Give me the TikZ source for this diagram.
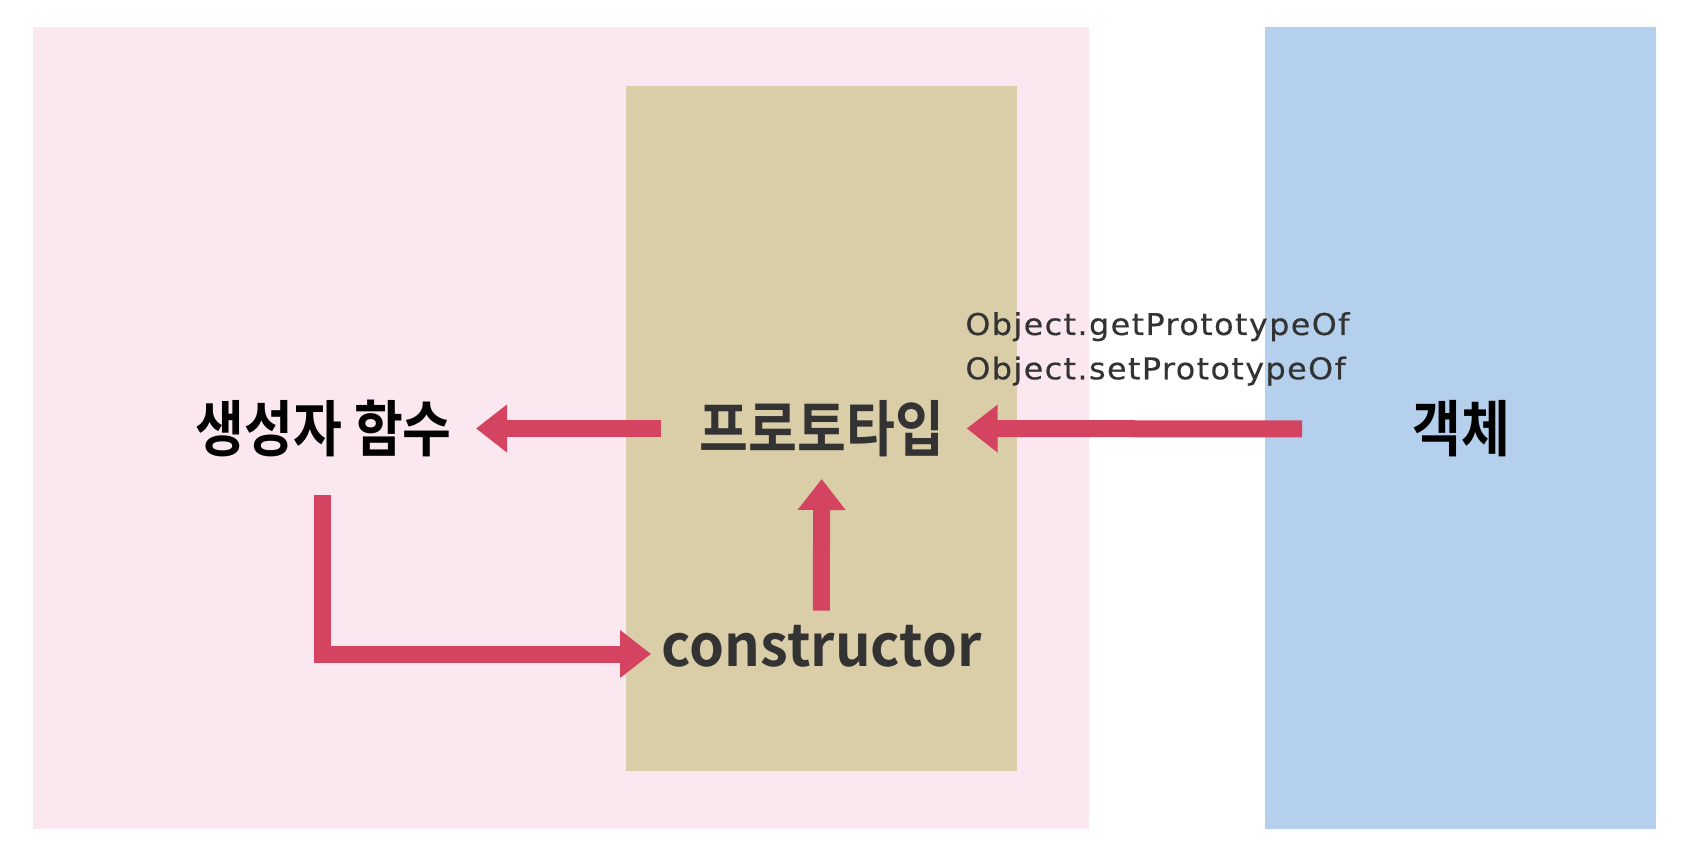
\documentclass[tikz,border=0pt]{standalone}
\usepackage{fontspec}
\setmainfont{Noto Sans CJK KR}
\newfontfamily\krb{Noto Sans CJK KR Bold}[FakeStretch=0.87]
\newfontfamily\latb{Noto Sans CJK KR Bold}[FakeStretch=0.965]
\newfontfamily\latr{DejaVu Sans}[FakeStretch=1.06,LetterSpace=4.75,FakeBold=0.4]
\usetikzlibrary{arrows.meta}
\definecolor{pinkbg}{RGB}{251,231,240}
\definecolor{tanbg}{RGB}{217,206,168}
\definecolor{bluebg}{RGB}{181,208,236}
\definecolor{arrred}{RGB}{212,67,95}
\definecolor{darktext}{RGB}{51,51,51}
\tikzset{
  krlabel/.style={inner sep=0pt, font=\krb\fontsize{30.5pt}{33pt}\selectfont},
  ctorlabel/.style={inner sep=0pt, text=darktext, font=\latb\fontsize{29pt}{33pt}\selectfont},
  apilabel/.style={inner sep=0pt, anchor=base west, text=darktext, font=\latr\fontsize{15pt}{18pt}\selectfont},
  arr/.style={draw=arrred, line width=8.5pt, -{Triangle[width=23pt,length=15.5pt]}}
}
\begin{document}
\begin{tikzpicture}[x=0.5pt,y=-0.5pt]
\useasboundingbox (0,0) rectangle (1694,866);
\fill[white] (0,0) rectangle (1694,866);
% panels
\fill[pinkbg] (33,27) rectangle (1089,829);
\fill[tanbg] (626,86) rectangle (1017,771);
\fill[bluebg] (1265,27) rectangle (1656,829);
% labels
\node[krlabel, text=black] (fn) at (323.6,428.5) {생성자 함수};
\node[krlabel, text=darktext] (proto) at (822,428.5) {프로토타입};
\node[krlabel, text=black] (obj) at (1461,429) {객체};
\node[ctorlabel, anchor=base] (ctor) at (821.7,666) {constructor};
\node[apilabel] (getp) at (965,335) {Object.getPrototypeOf};
\node[apilabel] (setp) at (965,379.3) {Object.setPrototypeOf};
% connectors
\draw[arr] ([xshift=-80.5pt]proto.center) -- ([xshift=76.2pt]fn.center);
\draw[arr] ([xshift=-79.5pt]obj.center) -- ([xshift=72.35pt]proto.center);
\draw[arr] ([xshift=-0.2pt,yshift=27.65pt]ctor.base) -- ([yshift=-25.25pt]ctor.base |- proto.center);
\draw[arr] ([xshift=-0.6pt,yshift=-33.25pt]fn.center) |- ([xshift=-85.35pt,yshift=6pt]ctor.base);
\end{tikzpicture}
\end{document}
